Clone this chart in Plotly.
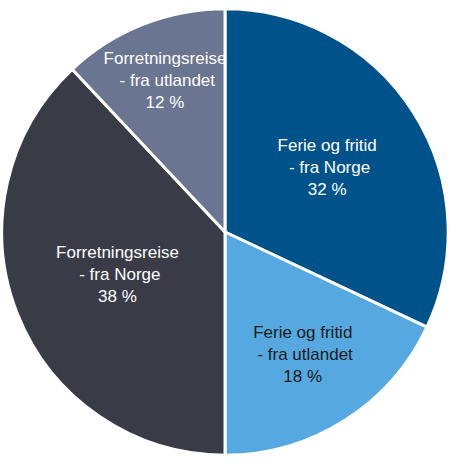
import plotly.graph_objects as go

# Data
labels = ["Ferie og fritid<br> - fra Norge", "Ferie og fritid<br> - fra utlandet",
          "Forretningsreise<br> - fra Norge", "Forretningsreise<br> - fra utlandet"]
values = [32, 18, 38, 12]
colors = ["#00528a", "#55a9e0", "#393b47", "#6a7591"]
text_colors = ["white", "#1a1a1a", "white", "white"]

fig = go.Figure()

fig.add_trace(go.Pie(
    labels=labels,
    values=values,
    sort=False,
    direction="clockwise",
    rotation=0,
    marker=dict(colors=colors, line=dict(color="white", width=3)),
    texttemplate="%{label}<br>%{value} %",
    textposition="inside",
    insidetextorientation="horizontal",
    textfont=dict(family="Liberation Sans, Arial", size=17, color=text_colors),
    hoverinfo="label+percent",
    showlegend=False,
    domain=dict(x=[0.004, 0.996], y=[0.018, 0.982]),
))

fig.update_layout(
    width=450,
    height=464,
    margin=dict(l=0, r=0, t=0, b=0),
    paper_bgcolor="white",
    uniformtext=dict(minsize=17, mode="show"),
)

# remove the default page margin so the figure sits at the window's corner
fig.write_html("out.html", config={"displayModeBar": False},
               post_script="document.body.style.margin='0';")
